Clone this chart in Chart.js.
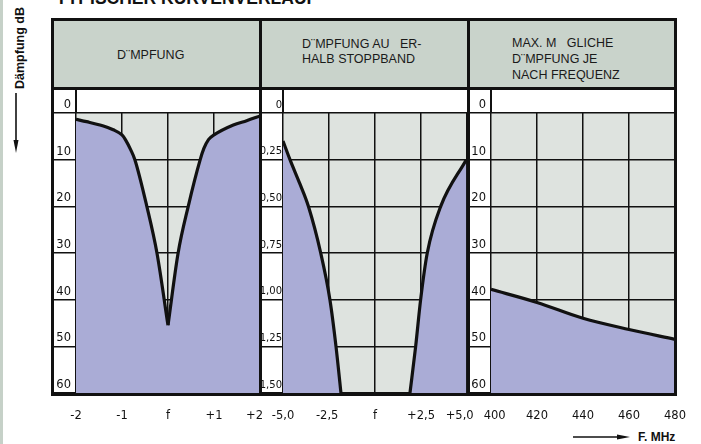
<!DOCTYPE html>
<html><head><meta charset="utf-8">
<script src="https://cdn.jsdelivr.net/npm/chart.js@4"></script>
<style>
body{margin:0;width:701px;height:444px;position:relative;overflow:hidden;background:#fff;font-family:"Liberation Sans",Arial,sans-serif;color:#111;}
.abs{position:absolute;}
canvas{position:absolute;}
.hd{position:absolute;font-size:12.5px;line-height:16px;white-space:pre;color:#1a1a1a;}
.ln{position:absolute;background:#111;}
</style></head><body>
<div class="abs" style="left:0;top:0;width:3px;height:444px;background:#c6d1c8"></div>
<div class="abs" style="left:56px;top:-10px;font-size:17.5px;line-height:16px;font-weight:bold;white-space:pre;">TYPISCHER KURVENVERLAUF</div>
<div class="abs" style="left:52px;top:19px;width:623px;height:69px;background:#c9d3cb"></div>
<div class="abs" style="left:20px;top:48px;transform:translate(-50%,-50%) rotate(-90deg);font-size:12.5px;font-weight:bold;white-space:pre;">Dämpfung dB</div>
<svg class="abs" style="left:0;top:0" width="701" height="444">
  <line x1="16" y1="93" x2="16" y2="144" stroke="#111" stroke-width="1.6"/>
  <polygon points="13.5,140 18.5,140 16,153" fill="#111"/>
  <line x1="573" y1="437" x2="620" y2="437" stroke="#111" stroke-width="1.6"/>
  <polygon points="617,434.5 617,439.5 630,437" fill="#111"/>
</svg>
<div class="abs" style="left:638px;top:429px;font-size:12px;line-height:16px;font-weight:bold;white-space:pre;">F. MHz</div>

<div class="hd" style="left:117px;top:47px;">D¨MPFUNG</div>
<div class="hd" style="left:302px;top:37px;line-height:15px;">D¨MPFUNG AU   ER-
HALB STOPPBAND</div>
<div class="hd" style="left:512px;top:35px;">MAX. M   GLICHE
D¨MPFUNG JE
NACH FREQUENZ</div>

<canvas id="c1" width="240" height="356" style="left:40px;top:88px"></canvas>
<canvas id="c2" width="240" height="356" style="left:247px;top:88px"></canvas>
<canvas id="c3" width="240" height="356" style="left:455px;top:88px"></canvas>

<!-- frame -->
<div class="abs" style="left:50.5px;top:18px;width:626px;height:377.5px;border:3px solid #111;box-sizing:border-box;"></div>
<div class="ln" style="left:258.5px;top:18px;width:3px;height:377px"></div>
<div class="ln" style="left:466.5px;top:18px;width:3px;height:377px"></div>
<div class="ln" style="left:51px;top:86.5px;width:625px;height:3px"></div>
<div class="ln" style="left:75.3px;top:88px;width:1.5px;height:25px"></div>
<div class="ln" style="left:282.3px;top:88px;width:1.5px;height:25px"></div>
<div class="ln" style="left:490.3px;top:88px;width:1.5px;height:25px"></div>

<script>
// ---- data ----
const p1LeftX  = [-2, -1.77, -1.48, -1.19, -1, -0.92, -0.81, -0.72, -0.46, -0.24, 0];
const p1LeftY  = [1.35, 1.86, 2.57, 3.6, 4.7, 5.8, 7.9, 10, 20, 30, 45.5];
const p1RightX = [0, 0.22, 0.44, 0.70, 0.78, 0.88, 1.0, 1.42, 1.71, 2.0];
const p1RightY = [45.5, 30, 20, 10, 7.6, 5.7, 4.7, 2.57, 1.64, 0.64];

const p2LeftX  = [-5.0, -4.62, -4.08, -3.62, -2.95, -2.45, -2.12, -1.85];
const p2LeftY  = [0.15, 0.25, 0.38, 0.50, 0.75, 1.00, 1.25, 1.50];
const p2RightX = [1.90, 2.21, 2.48, 2.84, 3.57, 4.96];
const p2RightY = [1.50, 1.25, 1.00, 0.75, 0.50, 0.25];

const p3X = [400, 420, 440, 460, 480];
const p3Y = [37.8, 40.6, 44.0, 46.4, 48.5];

const xTicks1 = [-2, -1, 0, 1, 2];
const xLabels1 = ['-2', '-1', 'f', '+1', '+2   '];
const xTicks2 = [-5, -2.5, 0, 2.5, 5];
const xLabels2 = ['-5,0', '-2,5 ', 'f', '+2,5', '+5,0    '];
const xTicks3 = [400, 420, 440, 460, 480];
const xLabels3 = ['  400', '420', '440', '460', '480'];

const yTicksDb = [0, 10, 20, 30, 40, 50, 60];
const yLabelsDb = ['0', '10', '20', '30', '40', '50', '60'];
const yTicks2 = [0, 0.25, 0.5, 0.75, 1.0, 1.25, 1.5];
const yLabels2 = ['0', '0,25', '0,50', '0,75', '1,00', '1,25', '1,50'];

// ---- drawing ----
const PURPLE = '#aaacd6';
const PLOTBG = '#dee3df';
const INK = '#111';

const bgPlugin = {
  id: 'plotbg',
  beforeDraw(chart) {
    const {ctx, chartArea: a} = chart;
    ctx.save();
    ctx.fillStyle = PLOTBG;
    ctx.fillRect(a.left, a.top, a.right - a.left, a.bottom - a.top);
    ctx.restore();
  }
};

function pts(xs, ys) { return xs.map((x, i) => ({x: x, y: ys[i]})); }

function makeChart(id, seriesList, xT, xL, yT, yL, yFont, yPad) {
  const xMin = xT[0], xMax = xT[xT.length - 1];
  const yMin = yT[0], yMax = yT[yT.length - 1];
  new Chart(document.getElementById(id), {
    type: 'line',
    data: {
      datasets: seriesList.map(s => ({
        data: pts(s[0], s[1]),
        borderColor: INK,
        borderWidth: 3.2,
        backgroundColor: PURPLE,
        fill: {value: yMax},
        pointRadius: 0,
        cubicInterpolationMode: 'monotone'
      }))
    },
    options: {
      responsive: false,
      animation: false,
      devicePixelRatio: 1,
      layout: {padding: {left: 12, right: 20, top: 25, bottom: 0}},
      plugins: {legend: {display: false}, tooltip: {enabled: false}},
      scales: {
        x: {
          type: 'linear', min: xMin, max: xMax, z: 1,
          afterBuildTicks: sc => { sc.ticks = xT.map(v => ({value: v})); },
          afterFit: sc => { sc.height = 51; sc.paddingLeft = 0; sc.paddingRight = 0; },
          grid: {color: INK, lineWidth: 1.5, drawTicks: false},
          border: {display: false},
          ticks: {
            padding: 16, maxRotation: 0, autoSkip: false, color: INK,
            font: {family: '"DejaVu Sans"', size: 11.5},
            callback: v => xL[xT.indexOf(v)]
          }
        },
        y: {
          type: 'linear', min: yMin, max: yMax, reverse: true, z: 1,
          afterBuildTicks: sc => { sc.ticks = yT.map(v => ({value: v})); },
          afterFit: sc => { sc.width = 24; sc.paddingTop = 0; sc.paddingBottom = 0; },
          grid: {color: INK, lineWidth: 1.5, drawTicks: true, tickLength: 24},
          border: {display: false},
          ticks: {
            padding: yPad, labelOffset: -8, autoSkip: false, color: INK,
            font: yFont,
            callback: v => yL[yT.indexOf(v)]
          }
        }
      }
    },
    plugins: [bgPlugin]
  });
}

makeChart('c1', [[p1LeftX, p1LeftY], [p1RightX, p1RightY]], xTicks1, xLabels1, yTicksDb, yLabelsDb,
  {family: '"DejaVu Sans"', size: 11.5}, -19);
makeChart('c2', [[p2LeftX, p2LeftY], [p2RightX, p2RightY]], xTicks2, xLabels2, yTicks2, yLabels2,
  {family: '"DejaVu Sans"', size: 10}, -23);
makeChart('c3', [[p3X, p3Y]], xTicks3, xLabels3, yTicksDb, yLabelsDb,
  {family: '"DejaVu Sans"', size: 11.5}, -19);
</script>
</body></html>
